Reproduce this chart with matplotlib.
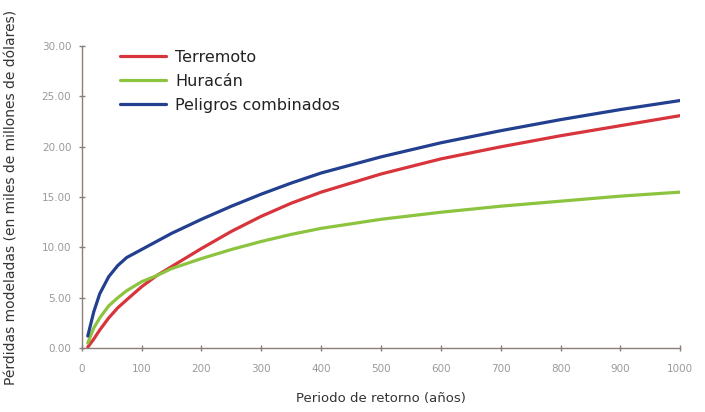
import matplotlib.pyplot as plt

# Periodo de retorno (años)
periodos = [10, 20, 30, 45, 60, 75, 100, 125, 150, 175, 200, 250, 300, 350, 400,
            500, 600, 700, 800, 900, 1000]

# Pérdidas (miles de millones de dólares)
terremoto = [0.1, 0.9, 1.8, 3.0, 4.0, 4.8, 6.1, 7.2, 8.1, 9.0, 9.9, 11.6, 13.1, 14.4, 15.5,
             17.3, 18.8, 20.0, 21.1, 22.1, 23.1]
huracan = [0.5, 2.0, 3.0, 4.2, 5.0, 5.7, 6.6, 7.2, 7.9, 8.4, 8.9, 9.8, 10.6, 11.3, 11.9,
           12.8, 13.5, 14.1, 14.6, 15.1, 15.5]
combinados = [1.2, 3.6, 5.4, 7.1, 8.2, 9.0, 9.8, 10.6, 11.4, 12.1, 12.8, 14.1, 15.3, 16.4, 17.4,
              19.0, 20.4, 21.6, 22.7, 23.7, 24.6]

x_ticks = [0, 100, 200, 300, 400, 500, 600, 700, 800, 900, 1000]
y_ticks = [0, 5, 10, 15, 20, 25, 30]

fig = plt.figure(figsize=(7.05, 4.12), dpi=100)
ax = fig.add_axes([0.116, 0.155, 0.849, 0.733])

ax.plot(periodos, terremoto, color='#d7343c', lw=2.3, label='Terremoto', solid_capstyle='round')
ax.plot(periodos, huracan, color='#8cc43f', lw=2.3, label='Huracán', solid_capstyle='round')
ax.plot(periodos, combinados, color='#223f90', lw=2.3, label='Peligros combinados', solid_capstyle='round')

ax.set_xlim(0, 1000)
ax.set_ylim(0, 30)
ax.set_xticks(x_ticks)
ax.set_yticks(y_ticks)
ax.set_yticklabels([f"{v:.2f}" for v in y_ticks])

for side in ['top', 'right']:
    ax.spines[side].set_visible(False)
for side in ['left', 'bottom']:
    ax.spines[side].set_color('#8a7f78')
    ax.spines[side].set_linewidth(1.0)

ax.tick_params(axis='both', direction='inout', length=5, width=1, color='#8a7f78',
               labelsize=7.5, labelcolor='#9a9a9a')
ax.tick_params(axis='y', pad=5)
ax.tick_params(axis='x', pad=9)

ax.set_xlabel('Periodo de retorno (años)', fontsize=9.5, color='#333333', labelpad=13)
ax.set_ylabel('Pérdidas modeladas (en miles de millones de dólares)', fontsize=10,
              color='#333333')
ax.yaxis.set_label_coords(-0.105, 0.5)

leg = ax.legend(loc='upper left', bbox_to_anchor=(0.04, 1.035), frameon=False,
                fontsize=11.5, handlelength=2.9, handletextpad=0.55, labelspacing=0.55)
for t in leg.get_texts():
    t.set_color('#222222')

fig.savefig('out.png', dpi=100, facecolor='white')
